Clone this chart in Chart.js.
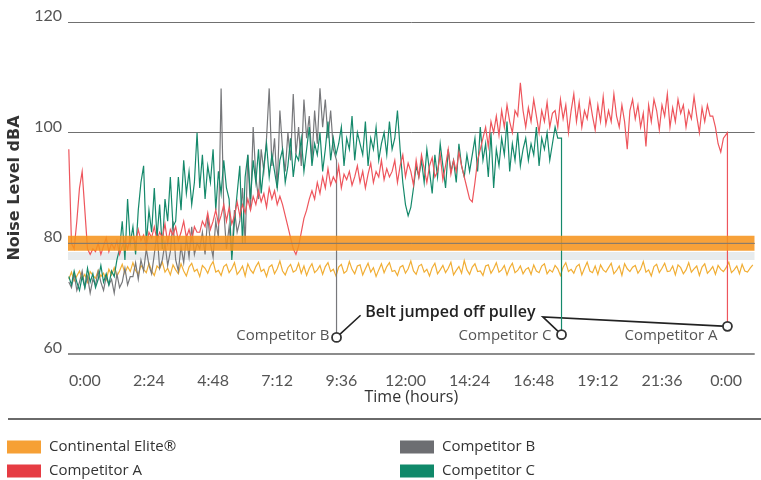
<!DOCTYPE html>
<html>
<head>
<meta charset="utf-8">
<script src="https://cdn.jsdelivr.net/npm/chart.js@4.4.1/dist/chart.umd.min.js"></script>
<style>
  html, body { margin: 0; background: #fff; }
  #wrap { width: 761px; height: 480px; position: relative; }
</style>
</head>
<body>
<div id="wrap"><canvas id="noiseChart"></canvas></div>
<script>
// ---- data ----
const seriesNames = ['Continental Elite®', 'Competitor A', 'Competitor B', 'Competitor C']
const lineColors = ['#f1ae35', '#ee555c', '#77787b', '#15896b']
const swatchColors = ['#f6a035', '#e63c43', '#6d6e72', '#10896a']

const tickHours = [0, 2.4, 4.8, 7.2, 9.6, 12, 14.4, 16.8, 19.2, 21.6, 24]
const tickLabels = ['0:00', '2:24', '4:48', '7:12', '9:36', '12:00', '14:24', '16:48', '19:12', '21:36', '0:00']
const yTicks = [60, 80, 100, 120]

// samples every 6 minutes, starting a little before the first tick
const sampleStart = -0.6
const sampleStep = 0.1

const eliteValues = [
  73.5, 74.8, 73.2, 74.1, 75.0, 73.6, 74.4, 73.0, 74.9, 74.2, 73.7, 75.1, 74.0, 74.6, 73.4, 75.3, 74.3, 75.6, 74.1, 75.0,
  76.2, 74.6, 75.8, 74.9, 76.5, 75.1, 74.4, 76.0, 75.3, 74.7, 76.4, 75.0, 74.2, 75.9, 75.4, 76.6, 74.8, 75.5, 74.3, 76.1,
  75.2, 74.5, 76.3, 75.0, 74.1, 75.7, 76.4, 74.9, 75.3, 74.0, 76.0, 75.5, 74.6, 75.9, 76.7, 74.8, 75.1, 74.2, 75.8, 76.2,
  74.7, 75.4, 76.5, 74.4, 75.0, 75.9, 74.1, 76.3, 75.2, 74.6, 75.8, 76.6, 74.9, 75.3, 74.0, 75.7, 76.1, 74.5, 75.4, 76.8,
  75.0, 74.3, 75.6, 76.2, 74.8, 75.1, 76.4, 74.6, 75.9, 74.2, 75.5, 76.3, 74.7, 75.2, 76.0, 74.4, 75.8, 76.5, 74.9, 75.3,
  74.1, 75.7, 76.2, 74.6, 75.0, 76.7, 75.3, 74.5, 75.9, 76.1, 74.3, 75.4, 76.4, 74.8, 75.6, 74.0, 75.2, 76.3, 74.7, 75.8,
  76.5, 74.9, 75.1, 74.2, 75.7, 76.0, 74.6, 75.4, 76.8, 75.0, 74.4, 75.9, 76.2, 74.8, 75.3, 74.1, 75.6, 76.4, 74.5, 75.2,
  76.0, 74.7, 75.5, 76.6, 74.3, 75.1, 75.8, 74.6, 76.9, 75.2, 74.4, 75.7, 76.3, 74.9, 75.0, 74.2, 75.9, 76.1, 74.6, 75.4,
  76.5, 74.8, 75.2, 76.0, 74.3, 75.6, 76.4, 74.7, 75.1, 75.9, 74.5, 75.3, 75.6, 74.4, 76.1, 75.0, 74.7, 75.9, 76.3, 74.5,
  75.2, 74.8, 76.0, 75.4, 74.2, 75.7, 76.5, 74.9, 75.3, 74.6, 75.8, 76.2, 74.3, 75.5, 76.6, 75.0, 74.7, 75.9, 74.4, 76.1,
  75.2, 74.8, 75.6, 76.4, 74.5, 75.1, 75.9, 74.2, 76.3, 75.4, 74.9, 75.7, 76.0, 74.6, 75.3, 76.7, 74.8, 75.2, 74.1, 75.8,
  76.2, 74.7, 75.5, 76.4, 74.9, 75.0, 75.9, 74.3, 76.1, 75.6, 74.5, 75.2, 76.5, 74.8, 75.4, 75.9, 74.2, 75.7, 76.3, 74.6,
  75.1, 75.8, 74.4, 76.0, 75.3, 74.9, 75.6, 76.6, 74.7, 75.2, 75.9, 74.5, 76.2, 75.0, 74.8, 75.5, 76.1
]

const compAValues = [
  97, 80, 79, 84, 90, 93, 86, 79, 78,
  79, 78.5, 80, 78, 79.5, 81, 78.5, 80, 79, 80.5, 78, 79.5, 80.5, 79, 81,
  81, 80, 82.5, 80.5, 81.5, 79.5, 82, 81, 83, 80.5, 82, 81, 83.5, 80, 82.5, 81.5, 83, 80.5, 82, 84, 81, 82.5, 80.5, 83, 82,
  82, 84, 83, 85.5, 82.5, 84, 86, 83.5, 85, 87, 84, 86.5, 83.5, 85, 87.5,
  85, 87, 85.5, 88, 86, 88.5, 87, 89.5, 87.5, 89, 86.5, 90, 88, 89.5, 87, 88.5,
  87, 85, 83, 81, 79, 78, 79.5, 82, 84.5, 86, 88,
  89.5, 88, 91, 89, 92, 90, 93.5, 90.5, 92, 91, 94, 90, 92.5, 91.5, 93, 90.5, 92, 94, 91, 93,
  90, 92.5, 94.5, 91, 93, 92, 95, 91.5, 93.5, 92,
  93, 95, 91, 94, 96, 92, 94.5, 93, 90.5, 95, 92, 96, 93.5, 91, 94, 95.5, 92, 93, 96, 91.5,
  94, 97, 92.5, 95, 93, 96.5, 94, 92,
  90, 88, 87.5, 91, 95,
  97, 99, 101, 97.5, 102, 100, 103, 99.5, 104, 101, 105, 102, 100, 104, 103, 109, 104, 101, 104.5, 102,
  106, 103, 100, 104, 102, 105.5, 101, 103.5,
  104, 101, 106, 102.5, 105, 100, 104, 107, 102, 105.5, 101, 104, 102.5, 106, 103, 100.5, 105, 102, 106.5, 101.5,
  104, 102, 107, 103, 101, 105, 102, 97, 104, 106, 102.5, 105, 101, 103.5, 97.5, 105, 102, 106, 104, 100.5,
  105, 103, 107, 101, 104.5, 102, 106, 103.5, 105, 101, 104, 102.5, 106.5, 103, 100, 104.5, 102, 105, 103,
  103, 101, 98, 96.5, 99
]

const compBValues = [
  73, 72, 74.5, 71.5, 73, 75, 72, 74, 71, 73.5, 72.5, 75, 73, 71.5, 74, 72.5, 73.5, 71, 74.5, 72, 73, 75.5, 72.5, 74,
  74, 76.5, 73.5, 77, 75, 79, 76, 74.5, 78, 82, 75.5, 77, 80, 76, 78.5, 84, 77, 75, 79.5, 76.5, 81, 77.5, 83, 78, 80,
  79, 82, 78, 85, 80, 77.5, 84, 81, 108, 86, 79, 83, 78, 86, 82,
  84, 90, 80, 96, 86, 101, 92, 88, 97, 93, 99, 108, 94, 99, 90, 104, 97, 93, 100, 95,
  107, 96, 101, 94, 106, 99, 103, 95, 104, 98, 108, 101, 106, 99, 104, 97
]

const compCValues = [
  74, 72.5, 75, 73, 71.5, 74, 72, 75.5, 73, 74.5, 72, 73.5, 76, 73, 74.5, 72.5, 75, 74,
  77, 79, 84, 77, 88, 80, 83, 78, 86, 91, 94, 80, 86, 82, 90, 81, 87, 79, 88, 84, 92, 83,
  84, 92, 86, 95, 89, 93, 87, 91, 100, 90, 96, 88, 94, 91, 97, 86, 93, 89, 95, 90,
  88, 77, 84, 89, 94, 80, 92, 96, 88, 95, 91, 97, 89, 94, 98, 92, 96, 93, 90, 95, 97, 91, 94, 99, 92, 96,
  95, 99, 93, 97, 101, 94, 98, 96, 100, 93, 97, 102, 95, 99, 96, 98, 101, 94, 99, 97,
  103, 95, 100, 98, 96, 102, 94, 99, 97, 101, 95, 98, 100, 96, 102, 97, 99, 104,
  97, 91, 87, 85, 86.5, 90, 94, 92,
  95, 91, 97, 93, 89, 96, 92, 98, 94, 90, 97, 93, 95, 91, 98, 94, 92, 96, 93,
  96, 99, 93, 101, 95, 98, 92, 100, 90, 97, 94, 99, 96, 102, 93, 98, 95, 100, 94, 97,
  99, 95, 98, 96, 101, 94, 99, 97, 100, 95, 98, 101, 99
]

// belt failures: Competitor A, B, C
const failHours = [24.05, 9.42, 17.84]
const failTopLevels = [100, 95, 99]
const markerLevels = [65, 63, 63.5]
const bandLevel = 80
const stripLevel = 77.7

const xMin = -0.63
const xMax = 25.07

const toPoints = vals => vals.map((v, i) => ({ x: sampleStart + i * sampleStep, y: v }))
const withFailure = (vals, k) => toPoints(vals).concat([
  { x: failHours[k], y: failTopLevels[k] },
  { x: failHours[k], y: markerLevels[k] }
])
const flat = level => [{ x: xMin, y: level }, { x: xMax, y: level }]

const lastPointRadius = c => (c.dataIndex === c.dataset.data.length - 1 ? 4.5 : 0)

const competitor = (k, vals, order) => ({
  label: seriesNames[k + 1],
  data: withFailure(vals, k),
  borderColor: lineColors[k + 1],
  borderWidth: 1.2,
  pointRadius: lastPointRadius,
  pointBackgroundColor: '#fff',
  pointBorderColor: '#333',
  pointBorderWidth: 1.8,
  order: order
})

const annotations = {
  id: 'annotations',
  beforeDatasetsDraw(chart) {
    const { ctx, scales: { x, y } } = chart
    ctx.save()
    ctx.strokeStyle = '#222'
    ctx.lineWidth = 1.6
    // leader lines from the note to each failure marker
    ctx.beginPath()
    ctx.moveTo(x.getPixelForValue(10.32), y.getPixelForValue(67.0))
    ctx.lineTo(x.getPixelForValue(failHours[1]), y.getPixelForValue(markerLevels[1]))
    ctx.moveTo(x.getPixelForValue(failHours[2]), y.getPixelForValue(markerLevels[2]))
    ctx.lineTo(x.getPixelForValue(17.14), y.getPixelForValue(66.7))
    ctx.lineTo(x.getPixelForValue(failHours[0]), y.getPixelForValue(markerLevels[0]))
    ctx.stroke()
    ctx.restore()
  },
  afterDraw(chart) {
    const { ctx, scales: { x, y } } = chart
    ctx.save()
    ctx.fillStyle = '#222'
    ctx.font = '600 16px "Open Sans"'
    ctx.textAlign = 'center'
    ctx.textBaseline = 'middle'
    ctx.fillText('Belt jumped off pulley', x.getPixelForValue(13.68), y.getPixelForValue(67.6))

    ctx.fillStyle = '#555'
    ctx.font = '15px "Open Sans"'
    ctx.textAlign = 'right'
    const labelY = y.getPixelForValue(63.3)
    ctx.fillText(seriesNames[2], x.getPixelForValue(failHours[1]) - 7, labelY)
    ctx.fillText(seriesNames[3], x.getPixelForValue(failHours[2]) - 10, labelY)
    ctx.fillText(seriesNames[1], x.getPixelForValue(failHours[0]) - 10, labelY)

    // separator + two column legend
    ctx.strokeStyle = '#6a6a6a'
    ctx.lineWidth = 2
    ctx.beginPath()
    ctx.moveTo(8, 419)
    ctx.lineTo(761, 419)
    ctx.stroke()

    const slots = [[7, 447], [7, 471], [400, 447], [400, 471]]
    ctx.font = '15px "Open Sans"'
    ctx.textAlign = 'left'
    seriesNames.forEach((name, i) => {
      const [sx, sy] = slots[i]
      ctx.fillStyle = swatchColors[i]
      ctx.fillRect(sx, sy - 6.5, 34, 13)
      ctx.fillStyle = '#333'
      ctx.fillText(name, sx + 42, sy)
    })
    ctx.restore()
  }
}

new Chart(document.getElementById('noiseChart'), {
  type: 'line',
  data: {
    datasets: [
      { label: 'grid80', data: flat(bandLevel), borderColor: '#777', borderWidth: 1, pointRadius: 0, order: 0 },
      { label: 'band', data: flat(bandLevel), borderColor: 'rgba(246,148,30,0.88)', borderWidth: 15, pointRadius: 0, order: 1 },
      competitor(0, compAValues, 2),
      competitor(2, compCValues, 3),
      competitor(1, compBValues, 4),
      {
        label: seriesNames[0],
        data: toPoints(eliteValues),
        borderColor: lineColors[0],
        borderWidth: 1.2,
        pointRadius: 0,
        order: 5
      },
      { label: 'strip', data: flat(stripLevel), borderColor: '#e7ebed', borderWidth: 8, pointRadius: 0, order: 6 }
    ]
  },
  options: {
    responsive: true,
    maintainAspectRatio: false,
    animation: false,
    events: [],
    elements: { line: { tension: 0 } },
    layout: { padding: { top: 22, bottom: 61, left: 0, right: 0 } },
    plugins: {
      legend: { display: false },
      tooltip: { enabled: false }
    },
    scales: {
      x: {
        type: 'linear',
        min: xMin,
        max: xMax,
        afterBuildTicks: s => { s.ticks = tickHours.map(v => ({ value: v })) },
        afterFit: s => { s.height = 65 },
        grid: { display: false },
        border: { display: false },
        ticks: {
          autoSkip: false,
          maxRotation: 0,
          padding: 9,
          color: '#555',
          font: { family: 'Lato', size: 16 },
          callback: (v, i) => tickLabels[i]
        },
        title: {
          display: true,
          text: 'Time (hours)',
          color: '#333',
          font: { family: 'Open Sans', size: 16 },
          padding: { top: 4, bottom: 12 }
        }
      },
      y: {
        min: 60,
        max: 120,
        afterBuildTicks: s => { s.ticks = yTicks.map(v => ({ value: v })) },
        afterFit: s => { s.width = 68 },
        grid: {
          drawTicks: false,
          color: c => (c.tick.value === 60 ? '#8c8c8c' : '#707070'),
          lineWidth: c => (c.tick.value === 60 ? 2 : 1)
        },
        border: { display: false },
        ticks: {
          padding: 6,
          labelOffset: -6,
          color: '#555',
          font: { family: 'Lato', size: 16 }
        },
        title: {
          display: true,
          text: 'Noise Level dBA',
          color: '#333',
          font: { family: 'DejaVu Sans', size: 16, weight: 'bold' },
          padding: { top: 5, bottom: 4 }
        }
      }
    }
  },
  plugins: [annotations]
})
</script>
</body>
</html>
